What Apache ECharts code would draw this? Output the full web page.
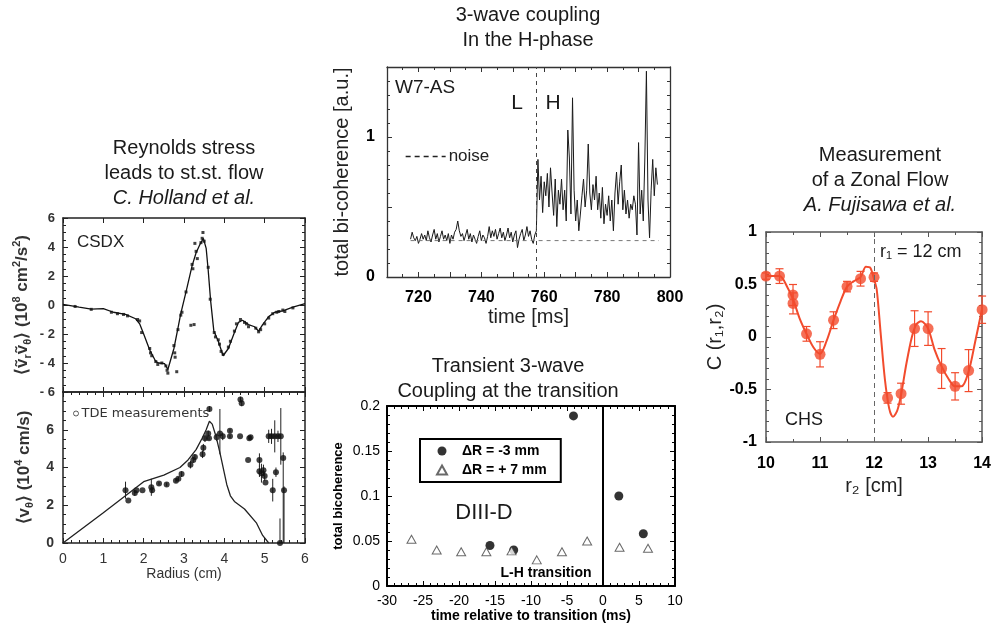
<!DOCTYPE html>
<html><head><meta charset="utf-8">
<script src="https://cdn.jsdelivr.net/npm/echarts@6/dist/echarts.min.js"></script>
<style>html,body{margin:0;padding:0;background:#fff}#c{width:994px;height:636px}</style>
</head><body><div id="c"></div>
<script>
// ================= DATA =================
// Panel A (top): CSDX Reynolds stress, radius (cm) vs <v_r v_theta> (1e8 cm^2/s^2)
const csdxCurveR = [0, 0.4, 0.7, 1.0, 1.25, 1.55, 1.8, 1.9, 2.0, 2.15, 2.3, 2.38, 2.52, 2.6, 2.75, 2.85, 2.92, 3.05, 3.2, 3.3, 3.4, 3.48, 3.55, 3.6, 3.66, 3.74, 3.85, 3.97, 4.1, 4.25, 4.35, 4.45, 4.6, 4.75, 4.85, 4.95, 5.1, 5.25, 5.45, 5.7, 6.0];
const csdxCurveV = [0.05, -0.15, -0.28, -0.25, -0.5, -0.65, -0.95, -1.3, -2.0, -3.1, -3.9, -4.0, -4.05, -4.45, -3.0, -1.6, -0.6, 0.9, 2.7, 3.6, 4.2, 4.6, 3.9, 2.4, 0.3, -1.8, -2.5, -3.5, -3.0, -1.9, -1.2, -1.05, -1.35, -1.5, -1.8, -1.35, -0.8, -0.5, -0.4, -0.15, 0.1];
const csdxPtsR = [0.3, 0.7, 1.2, 1.35, 1.5, 1.6, 1.85, 1.9, 1.95, 2.15, 2.17, 2.2, 2.3, 2.35, 2.45, 2.55, 2.58, 2.6, 2.75, 2.77, 2.78, 2.82, 2.85, 2.92, 2.95, 3.17, 3.25, 3.05, 3.2, 3.22, 3.3, 3.33, 3.27, 3.42, 3.45, 3.47, 3.5, 3.6, 3.65, 3.75, 3.78, 3.85, 3.88, 3.92, 3.97, 4.1, 4.15, 4.25, 4.3, 4.4, 4.5, 4.55, 4.6, 4.78, 4.85, 4.9, 5.0, 5.1, 5.2, 5.3, 5.35, 5.45, 5.5, 5.7];
const csdxPtsV = [-0.1, -0.3, -0.5, -0.6, -0.65, -0.75, -1.0, -1.1, -1.9, -3.0, -3.3, -3.5, -3.9, -4.1, -4.0, -4.2, -4.5, -4.7, -2.8, -3.3, -3.6, -4.6, -1.7, -0.7, -0.5, -1.4, -1.35, 0.9, 2.8, 2.5, 3.7, 3.2, 4.25, 4.3, 4.6, 5.0, 4.4, 2.6, 0.4, -1.9, -2.2, -2.4, -2.7, -3.2, -3.4, -2.9, -2.5, -1.8, -1.3, -1.0, -1.2, -1.3, -1.5, -1.6, -1.85, -1.7, -1.3, -0.9, -0.6, -0.5, -0.45, -0.35, -0.45, -0.2];

// Panel A (bottom): <v_theta> (1e4 cm/s) vs radius (cm)
const tdeCurveR = [0, 1.0, 2.0, 2.5, 2.9, 3.1, 3.3, 3.45, 3.55, 3.63, 3.7, 3.8, 3.9, 4.0, 4.06, 4.15, 4.25, 4.5, 4.8, 4.95, 5.1];
const tdeCurveV = [0, 1.6, 3.25, 3.6, 4.0, 4.4, 4.95, 5.55, 6.0, 6.45, 6.3, 5.6, 4.7, 3.7, 3.1, 2.5, 2.2, 1.8, 1.05, 0.4, 0];
const tdeR  = [1.55, 1.62, 1.78, 1.82, 1.97, 2.19, 2.21, 2.38, 2.57, 2.8, 2.86, 2.94, 3.16, 3.23, 3.27, 3.46, 3.48, 3.52, 3.6, 3.62, 3.63, 3.81, 3.89, 3.96, 4.14, 4.14, 4.39, 4.4, 4.43, 4.59, 4.62, 4.65, 4.87, 4.87, 4.92, 4.97, 5.0, 5.02, 5.1, 5.17, 5.25, 5.33, 5.2, 5.28, 5.4, 5.46, 5.48, 5.38];
const tdeV  = [2.8, 2.25, 2.65, 2.8, 2.8, 2.95, 2.8, 3.15, 3.1, 3.3, 3.4, 3.65, 4.15, 4.4, 4.55, 4.7, 5.05, 5.55, 5.8, 5.55, 7.1, 5.6, 5.8, 5.65, 5.95, 5.65, 5.65, 7.6, 7.4, 4.4, 5.55, 5.6, 4.4, 3.8, 3.7, 3.85, 3.55, 3.2, 5.65, 5.65, 5.65, 5.65, 2.8, 3.75, 5.65, 4.5, 2.8, 0];
const tdeLo = [0.45, 0, 0.15, 0, 0, 0.45, 0.15, 0.1, 0.1, 0.1, 0.1, 0.15, 0.2, 0.15, 0.15, 0.2, 0.2, 0.2, 0.15, 0.1, 0.15, 0.2, 1.1, 0.2, 0.1, 0.1, 0, 0.15, 0.15, 0, 0.1, 0.1, 0.35, 0.3, 0.5, 0.3, 0.25, 0, 0.35, 0.4, 0.85, 0.3, 0.6, 0.25, 1.5, 4.5, 2.8, 0];
const tdeHi = [0.45, 0, 0.15, 0, 0, 0.45, 0.15, 0.1, 0.1, 0.1, 0.1, 0.15, 0.2, 0.15, 0.15, 0.2, 0.2, 0.2, 0.15, 0.1, 0.15, 0.2, 1.3, 0.2, 0.1, 0.1, 0, 0.15, 0.15, 0, 0.1, 0.1, 0.35, 0.3, 0.5, 0.3, 0.25, 0, 0.35, 0.4, 0.85, 0.3, 0.6, 0.25, 1.5, 0.3, 0.2, 1.3];

// Panel B: W7-AS total bi-coherence vs time (ms), sampled every 0.5 ms from 717.5 ms
const w7Start = 717.5;
const w7Step = 0.5;
const w7Signal = [
  0.27,0.32,0.28,0.26,0.29,0.24,0.27,0.31,0.27,0.30,
  0.26,0.33,0.28,0.25,0.30,0.34,0.27,0.31,0.25,0.29,
  0.33,0.27,0.30,0.26,0.31,0.24,0.30,0.27,0.32,0.34,
  0.40,0.33,0.29,0.31,0.26,0.30,0.34,0.27,0.31,0.25,
  0.30,0.27,0.24,0.29,0.33,0.26,0.30,0.28,0.24,0.29,
  0.36,0.28,0.33,0.29,0.34,0.27,0.31,0.35,0.28,0.32,
  0.26,0.30,0.35,0.28,0.32,0.25,0.30,0.33,0.21,0.27,
  0.31,0.34,0.26,0.30,0.36,0.29,0.33,0.27,0.24,0.30,
  0.33,
  0.84,0.55,0.72,0.46,0.68,0.58,0.74,0.50,0.78,0.60,
  0.44,0.70,0.36,0.62,0.52,0.70,0.48,0.62,0.40,1.05,
  0.85,0.45,1.28,0.62,0.40,0.55,0.33,0.45,0.58,0.70,
  0.50,0.62,0.95,0.60,0.48,0.66,0.55,0.72,0.48,0.60,
  0.42,0.64,0.38,0.52,0.44,0.58,0.40,0.55,0.33,0.60,
  0.75,0.52,0.68,0.80,0.48,0.62,0.45,0.55,0.42,0.52,
  0.48,0.58,0.52,0.30,0.96,0.45,0.62,0.40,0.85,1.47,
  0.55,0.28,0.62,0.84,0.58,0.78,0.66
];
const w7NoiseT = [717.5, 796.5];
const w7NoiseV = [0.26, 0.26];
const w7Transition = 757.5;

// Panel C: DIII-D total bicoherence vs time relative to transition (ms)
const diiiMinus3T = [-15.7, -12.4, -4.1, 2.2, 5.6];
const diiiMinus3V = [0.045, 0.040, 0.189, 0.100, 0.058];
const diiiPlus7T = [-26.6, -23.1, -19.7, -16.2, -12.7, -9.2, -5.7, -2.2, 2.3, 6.25];
const diiiPlus7V = [0.052, 0.040, 0.038, 0.038, 0.039, 0.029, 0.038, 0.050, 0.043, 0.042];
const diiiTransition = 0;

// Panel D: CHS correlation C(r1,r2) vs r2 (cm)
const chsR   = [10.0, 10.25, 10.5, 10.5, 10.75, 11.0, 11.25, 11.5, 11.75, 12.0, 12.25, 12.5, 12.75, 13.0, 13.25, 13.5, 13.75, 14.0];
const chsC   = [0.58, 0.58, 0.40, 0.32, 0.03, -0.165, 0.16, 0.48, 0.555, 0.57, -0.58, -0.54, 0.08, 0.08, -0.30, -0.47, -0.32, 0.26];
const chsErr = [0.03, 0.07, 0.10, 0.10, 0.07, 0.12, 0.08, 0.05, 0.07, 0.04, 0.05, 0.10, 0.17, 0.16, 0.19, 0.13, 0.20, 0.13];
const chsFitR = [10.0, 10.25, 10.4, 10.5, 10.62, 10.75, 10.88, 11.0, 11.12, 11.25, 11.38, 11.5, 11.62, 11.75, 11.85, 11.93, 12.0, 12.05, 12.12, 12.2, 12.28, 12.35, 12.43, 12.5, 12.6, 12.7, 12.78, 12.87, 13.0, 13.12, 13.25, 13.38, 13.5, 13.62, 13.75, 13.87, 14.0];
const chsFitC = [0.58, 0.58, 0.47, 0.36, 0.18, 0.03, -0.10, -0.16, -0.04, 0.16, 0.34, 0.48, 0.53, 0.57, 0.67, 0.66, 0.55, 0.45, 0.05, -0.40, -0.68, -0.76, -0.70, -0.55, -0.25, 0.0, 0.12, 0.15, 0.08, -0.12, -0.28, -0.40, -0.47, -0.47, -0.33, -0.05, 0.27];
const chsR1 = 12;

// ================= CHART =================
const FONT = '"Liberation Sans", Arial, Helvetica, sans-serif';
const RED = '#f24b2d';
const zip = (a, b) => a.map((v, i) => [v, b[i]]);

function axis(dim, grid, pos, o) {
  const main = (pos === 'bottom' || pos === 'left');
  const a = {
    type: 'value', gridIndex: grid, position: pos,
    min: o.min, max: o.max, interval: o.interval,
    axisLine: {show: true, onZero: false, lineStyle: {color: o.color, width: o.lw}},
    axisTick: {show: true, inside: true, length: o.tick || 5, lineStyle: {color: o.color, width: 1}},
    minorTick: {show: !!o.minor, splitNumber: o.minor || 5, length: o.minorLen || 3, lineStyle: {color: o.color, width: 1}},
    splitLine: {show: false},
    minorSplitLine: {show: false},
    axisLabel: {show: main && !!o.label, margin: o.margin || 8, color: o.labelColor || '#000',
      fontFamily: FONT, fontSize: o.fs || 14, fontWeight: o.fw || 'normal'}
  };
  if (o.fmt) a.axisLabel.formatter = o.fmt;
  if (main && o.name) {
    a.name = o.name; a.nameLocation = 'middle'; a.nameGap = o.nameGap;
    a.nameRotate = dim === 'y' ? 90 : 0;
    a.nameTextStyle = o.nameStyle;
  }
  return a;
}

const supsub = (base) => ({
  sup: {fontSize: Math.round(base * 0.65), verticalAlign: 'top', lineHeight: base + 5, fontFamily: FONT, fontWeight: 'bold', color: '#333'},
  sub: {fontSize: Math.round(base * 0.65), verticalAlign: 'bottom', lineHeight: base + 5, fontFamily: FONT, fontWeight: 'bold', color: '#333'}
});

const minusSp = v => (v < 0 ? '- ' + Math.abs(v) : String(v));

const A1 = {color: '#222', lw: 1.5};
const xA = Object.assign({min: 0, max: 6, interval: 1, minor: 0}, A1);
const yA1 = Object.assign({min: -6, max: 6, interval: 2, minor: 4, label: true, fs: 13, fw: 'bold', labelColor: '#333', margin: 8, fmt: minusSp,
  name: '⟨ṽ{sub|r}ṽ{sub|θ}⟩ (10{sup|8} cm{sup|2}/s{sup|2})', nameGap: 30,
  nameStyle: {fontFamily: FONT, fontSize: 17, fontWeight: 'bold', color: '#333', lineHeight: 22, rich: supsub(17)}}, A1);
const xA2 = Object.assign({}, xA, {minor: 5, label: true, fs: 14, labelColor: '#333', margin: 9,
  name: 'Radius (cm)', nameGap: 23, nameStyle: {fontFamily: FONT, fontSize: 14, color: '#333'}});
const yA2 = Object.assign({min: 0, max: 8, interval: 2, minor: 4, label: true, fs: 14, fw: 'bold', labelColor: '#333', margin: 9,
  fmt: v => (v > 6 ? '' : String(v)),
  name: '⟨v{sub|θ}⟩ (10{sup|4} cm/s)', nameGap: 28,
  nameStyle: {fontFamily: FONT, fontSize: 17, fontWeight: 'bold', color: '#333', lineHeight: 22, rich: supsub(17)}}, A1);

const B1 = {color: '#333', lw: 1.3};
const xB = Object.assign({min: 710, max: 800, interval: 10, minor: 2, label: true, fs: 16, fw: 'bold', margin: 13,
  fmt: v => (v % 20 === 0 ? String(v) : ''),
  name: 'time [ms]', nameGap: 30, nameStyle: {fontFamily: FONT, fontSize: 20, color: '#222'}}, B1);
const yB = Object.assign({min: 0, max: 1.5, interval: 0.5, minor: 5, label: true, fs: 16, fw: 'bold', margin: 12,
  fmt: v => (v === 0 || v === 1 ? String(v) : ''),
  name: 'total bi-coherence [a.u.]', nameGap: 35, nameStyle: {fontFamily: FONT, fontSize: 20, color: '#222'}}, B1);

const C1 = {color: '#000', lw: 2};
const xC = Object.assign({min: -30, max: 10, interval: 5, minor: 5, label: true, fs: 14, margin: 8,
  name: 'time relative to transition (ms)', nameGap: 21, nameStyle: {fontFamily: FONT, fontSize: 14, fontWeight: 'bold', color: '#000'}}, C1);
const yC = Object.assign({min: 0, max: 0.2, interval: 0.05, minor: 5, label: true, fs: 14, margin: 7,
  name: 'total bicoherence', nameGap: 42, nameStyle: {fontFamily: FONT, fontSize: 13, fontWeight: 'bold', color: '#000'}}, C1);

const D1 = {color: '#555', lw: 1.5};
const xD = Object.assign({min: 10, max: 14, interval: 1, minor: 2, label: true, fs: 16, fw: 'bold', margin: 14,
  name: 'r₂ [cm]', nameGap: 34, nameStyle: {fontFamily: FONT, fontSize: 20, color: '#222'}}, D1);
const yD = Object.assign({min: -1, max: 1, interval: 0.5, minor: 5, label: true, fs: 16, fw: 'bold', margin: 9,
  name: 'C (r₁,r₂)', nameGap: 40, nameStyle: {fontFamily: FONT, fontSize: 20, color: '#222'}}, D1);

const strip = o => Object.assign({}, o, {label: false, name: null});

const grids = [
  {left: 63, top: 218, width: 242, height: 174},
  {left: 63, top: 392, width: 242, height: 151},
  {left: 387, top: 67, width: 283, height: 210},
  {left: 387, top: 406, width: 288, height: 180},
  {left: 766, top: 232, width: 218, height: 210}
];

const xAxes = [
  axis('x', 0, 'bottom', strip(xA)), axis('x', 0, 'top', xA),
  axis('x', 1, 'bottom', xA2), axis('x', 1, 'top', strip(xA2)),
  axis('x', 2, 'bottom', xB), axis('x', 2, 'top', strip(xB)),
  axis('x', 3, 'bottom', xC), axis('x', 3, 'top', strip(xC)),
  axis('x', 4, 'bottom', xD), axis('x', 4, 'top', strip(xD))
];
const yAxes = [
  axis('y', 0, 'left', yA1), axis('y', 0, 'right', strip(yA1)),
  axis('y', 1, 'left', yA2), axis('y', 1, 'right', strip(yA2)),
  axis('y', 2, 'left', yB), axis('y', 2, 'right', strip(yB)),
  axis('y', 3, 'left', yC), axis('y', 3, 'right', strip(yC)),
  axis('y', 4, 'left', yD), axis('y', 4, 'right', strip(yD))
];

function errBar(color, lw, cap) {
  return function (params, api) {
    const x = api.value(0);
    const a = api.coord([x, api.value(2)]);
    const b = api.coord([x, api.value(3)]);
    const st = {stroke: color, lineWidth: lw};
    const ch = [{type: 'line', shape: {x1: a[0], y1: a[1], x2: b[0], y2: b[1]}, style: st}];
    if (cap) {
      ch.push({type: 'line', shape: {x1: a[0] - cap, y1: a[1], x2: a[0] + cap, y2: a[1]}, style: st});
      ch.push({type: 'line', shape: {x1: b[0] - cap, y1: b[1], x2: b[0] + cap, y2: b[1]}, style: st});
    }
    return {type: 'group', children: ch};
  };
}

const vLine = (x, color, width, type) => ({
  silent: true, symbol: ['none', 'none'], label: {show: false},
  lineStyle: {color: color, width: width, type: type}, emphasis: {disabled: true},
  data: [{xAxis: x}]
});

function T(x, y, text, opts) {
  return {type: 'text', x: x, y: y, silent: true, style: Object.assign({
    text: text, fontFamily: FONT, fontSize: 20, fill: '#1a1a1a', align: 'left', verticalAlign: 'middle'
  }, opts || {})};
}

const titleRich = {i: {fontStyle: 'italic', fontSize: 20, lineHeight: 25, fontFamily: FONT, fill: '#1a1a1a', color: '#1a1a1a'}};

const option = {
  animation: false,
  backgroundColor: '#fff',
  grid: grids.map(g => Object.assign({containLabel: false}, g)),
  xAxis: xAxes,
  yAxis: yAxes,
  legend: [
    {data: ['noise'], left: 400, top: 143, selectedMode: false, itemWidth: 40, itemHeight: 12, itemGap: 4,
      textStyle: {fontSize: 17, fontFamily: FONT, color: '#222', padding: [0, 0, 0, -2]},
      itemStyle: {opacity: 0, color: 'transparent', borderWidth: 0},
      lineStyle: {color: '#222', width: 1.3, type: [5, 4]}},
    {data: ['ΔR = -3 mm', 'ΔR = + 7 mm'], orient: 'vertical', left: 420, top: 439, selectedMode: false,
      borderColor: '#000', borderWidth: 2, borderRadius: 0, padding: [5, 14, 5, 16], itemGap: 5,
      itemWidth: 10, itemHeight: 9,
      textStyle: {fontSize: 14, fontWeight: 'bold', fontFamily: FONT, color: '#000', padding: [0, 0, 0, 10]}},
    {data: ['TDE measurements'], left: 68, top: 402, selectedMode: false, itemWidth: 5, itemHeight: 5, itemGap: 3,
      itemStyle: {color: '#fff', borderColor: '#333', borderWidth: 1},
      textStyle: {fontSize: 13, fontFamily: '"DejaVu Sans", sans-serif', color: '#333', padding: [0, 0, 0, -2]}}
  ],
  series: [
    {type: 'line', xAxisIndex: 0, yAxisIndex: 0, data: zip(csdxCurveR, csdxCurveV), symbol: 'none',
      lineStyle: {color: '#111', width: 1.3}, silent: true},
    {type: 'scatter', xAxisIndex: 0, yAxisIndex: 0, data: zip(csdxPtsR, csdxPtsV), symbol: 'rect', symbolSize: 3,
      itemStyle: {color: '#111'}, silent: true},
    {type: 'line', xAxisIndex: 2, yAxisIndex: 2, data: zip(tdeCurveR, tdeCurveV), symbol: 'none',
      lineStyle: {color: '#222', width: 1.3}, silent: true},
    {type: 'custom', xAxisIndex: 2, yAxisIndex: 2, renderItem: errBar('#222', 1, 0), silent: true, clip: true,
      encode: {x: 0, y: [1, 2, 3]},
      data: tdeR.map((r, i) => [r, tdeV[i], tdeV[i] - tdeLo[i], tdeV[i] + tdeHi[i]])},
    {type: 'scatter', name: 'TDE measurements', xAxisIndex: 2, yAxisIndex: 2, data: zip(tdeR, tdeV),
      symbol: 'circle', symbolSize: 6, itemStyle: {color: '#111'}, silent: true},

    {type: 'line', xAxisIndex: 4, yAxisIndex: 4, silent: true, symbol: 'none',
      data: w7Signal.map((v, i) => [w7Start + i * w7Step, v]),
      lineStyle: {color: '#1a1a1a', width: 1},
      markLine: vLine(w7Transition, '#444', 1, [4, 4])},
    {type: 'line', name: 'noise', xAxisIndex: 4, yAxisIndex: 4, silent: true, symbol: 'none',
      data: zip(w7NoiseT, w7NoiseV), itemStyle: {color: '#777'}, lineStyle: {color: '#777', width: 1, type: [4, 4]}},

    {type: 'scatter', name: 'ΔR = -3 mm', xAxisIndex: 6, yAxisIndex: 6, silent: true,
      data: zip(diiiMinus3T, diiiMinus3V), symbol: 'circle', symbolSize: 9, itemStyle: {color: '#000'},
      markLine: vLine(diiiTransition, '#000', 2, 'solid')},
    {type: 'scatter', name: 'ΔR = + 7 mm', xAxisIndex: 6, yAxisIndex: 6, silent: true,
      data: zip(diiiPlus7T, diiiPlus7V), symbol: 'triangle', symbolSize: [9, 8],
      itemStyle: {color: '#fff', borderColor: '#444', borderWidth: 1}},

    {type: 'line', xAxisIndex: 8, yAxisIndex: 8, silent: true, symbol: 'none', smooth: 0.3,
      data: zip(chsFitR, chsFitC), lineStyle: {color: RED, width: 2},
      markLine: vLine(chsR1, '#666', 1, [5, 4])},
    {type: 'custom', xAxisIndex: 8, yAxisIndex: 8, renderItem: errBar(RED, 1.2, 4), silent: true, clip: false,
      encode: {x: 0, y: [1, 2, 3]},
      data: chsR.map((r, i) => [r, chsC[i], chsC[i] - chsErr[i], chsC[i] + chsErr[i]])},
    {type: 'scatter', xAxisIndex: 8, yAxisIndex: 8, silent: true, data: zip(chsR, chsC),
      symbol: 'circle', symbolSize: 11, itemStyle: {color: RED}}
  ],
  graphic: [
    T(184, 135.5, 'Reynolds stress\nleads to st.st. flow\n{i|C. Holland et al.}', {align: 'center', verticalAlign: 'top', lineHeight: 25, rich: titleRich}),
    T(528, 2.5, '3-wave coupling\nIn the H-phase', {align: 'center', verticalAlign: 'top', lineHeight: 25}),
    T(508, 353.5, 'Transient 3-wave\nCoupling at the transition', {align: 'center', verticalAlign: 'top', lineHeight: 25}),
    T(880, 142.5, 'Measurement\nof a Zonal Flow\n{i|A. Fujisawa et al.}', {align: 'center', verticalAlign: 'top', lineHeight: 25, rich: titleRich}),
    T(77, 242, 'CSDX', {fontSize: 17, fill: '#222'}),
    T(395, 88, 'W7-AS', {fontSize: 19}),
    T(517, 103, 'L', {fontSize: 21, align: 'center'}),
    T(553, 103, 'H', {fontSize: 21, align: 'center'}),
    T(484, 513, 'DIII-D', {fontSize: 22, align: 'center'}),
    T(546, 573, 'L-H transition', {fontSize: 14, fontWeight: 'bold', align: 'center', fill: '#000'}),
    T(880, 252, 'r₁ = 12 cm', {fontSize: 18}),
    T(785, 420, 'CHS', {fontSize: 18})
  ]
};

const chart = echarts.init(document.getElementById('c'), null, {renderer: 'canvas'});
chart.setOption(option);
</script>
</body></html>
